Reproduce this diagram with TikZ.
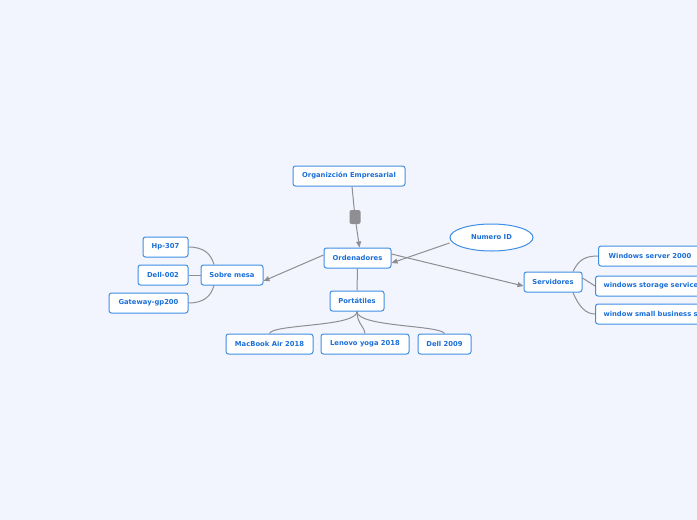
\documentclass[tikz,border=0pt]{standalone}
\usepackage{fontspec}
\setmainfont{DejaVu Sans}
\usetikzlibrary{arrows.meta,shapes.geometric}
\definecolor{bg}{HTML}{F2F5FD}
\definecolor{txt}{HTML}{1B6FD8}
\definecolor{bord}{HTML}{3F8EE6}
\definecolor{conn}{HTML}{8E8E93}
\begin{document}
\begin{tikzpicture}[x=1pt,y=-1pt,
  box/.style={draw=bord, line width=1pt, fill=white, rounded corners=2.5pt,
    font=\fontsize{6.8}{7.5}\selectfont\bfseries, text=txt,
    minimum height=20pt, inner sep=0pt},
  conn/.style={draw=conn, line width=1pt},
  arr/.style={conn, -{Triangle[length=6pt,width=5pt]}}]
\useasboundingbox (0,0) rectangle (697,520);
\fill[bg] (0,0) rectangle (697,520);
\clip (0,0) rectangle (697,520);

\node[box, minimum width=112pt] (org) at (349,176) {Organizción Empresarial};
\node[fill=conn, rounded corners=2pt, minimum width=11pt, minimum height=14pt, inner sep=0pt] (mk) at (355,217) {};
\node[box, minimum width=67pt] (ord) at (357.5,258) {Ordenadores};
\node[ellipse, draw=bord, line width=1pt, fill=white, minimum width=83pt, minimum height=27pt, inner sep=0pt,
  font=\fontsize{6.8}{7.5}\selectfont\bfseries, text=txt] (nid) at (491.5,237.5) {Numero ID};
\node[box, minimum width=62pt] (sm) at (232,275) {Sobre mesa};
\node[box, minimum width=45pt] (hp) at (165.5,247) {Hp-307};
\node[box, minimum width=50pt] (d02) at (163,275) {Dell-002};
\node[box, minimum width=79pt] (gw) at (148.5,303) {Gateway-gp200};
\node[box, minimum width=54pt] (port) at (357,301) {Portátiles};
\node[box, minimum width=87pt] (mac) at (269.5,344) {MacBook Air 2018};
\node[box, minimum width=88pt] (len) at (365,344) {Lenovo yoga 2018};
\node[box, minimum width=53pt] (dell) at (444.5,344) {Dell 2009};
\node[box, minimum width=58pt] (srv) at (553,282) {Servidores};
\node[box, anchor=west, minimum width=103pt] (w2k) at (598,256) {Windows server 2000};
\node[box, anchor=west, text width=120pt, inner xsep=8pt, align=left] (wss) at (595,286) {windows storage services};
\node[box, anchor=west, text width=120pt, inner xsep=8pt, align=left] (wsb) at (595,314) {window small business server};

\draw[conn] ([xshift=3pt]org.south) -- (mk);
\draw[arr] (mk) -- ([xshift=2pt]ord.north);
\draw[arr] (nid.west |- 0,243) -- ([yshift=-5pt]ord.east);
\draw[arr] ([yshift=3pt]ord.west) -- ([yshift=-6pt]sm.east);
\draw[arr] ([yshift=4pt]ord.east) -- ([yshift=-4pt]srv.west);
\draw[conn] (ord.south) -- (port.north);

\draw[conn] ([xshift=-18pt]sm.north) .. controls (211,254) and (204,247) .. (hp.east);
\draw[conn] (sm.west) -- (d02.east);
\draw[conn] ([xshift=-18pt]sm.south) .. controls (211,296) and (204,303) .. (gw.east);

\draw[conn] (port.south) .. controls (357,327) and (272,324) .. (mac.north);
\draw[conn] (port.south) .. controls (357,324) and (365,327) .. (len.north);
\draw[conn] (port.south) .. controls (357,327) and (440,325) .. (dell.north);

\draw[conn] ([xshift=20pt]srv.north) .. controls (579,259) and (586,256) .. (w2k.west);
\draw[conn] ([yshift=4pt]srv.east) -- (wss.west);
\draw[conn] ([xshift=20pt]srv.south) .. controls (579,307) and (586,314) .. (wsb.west);
\end{tikzpicture}
\end{document}
